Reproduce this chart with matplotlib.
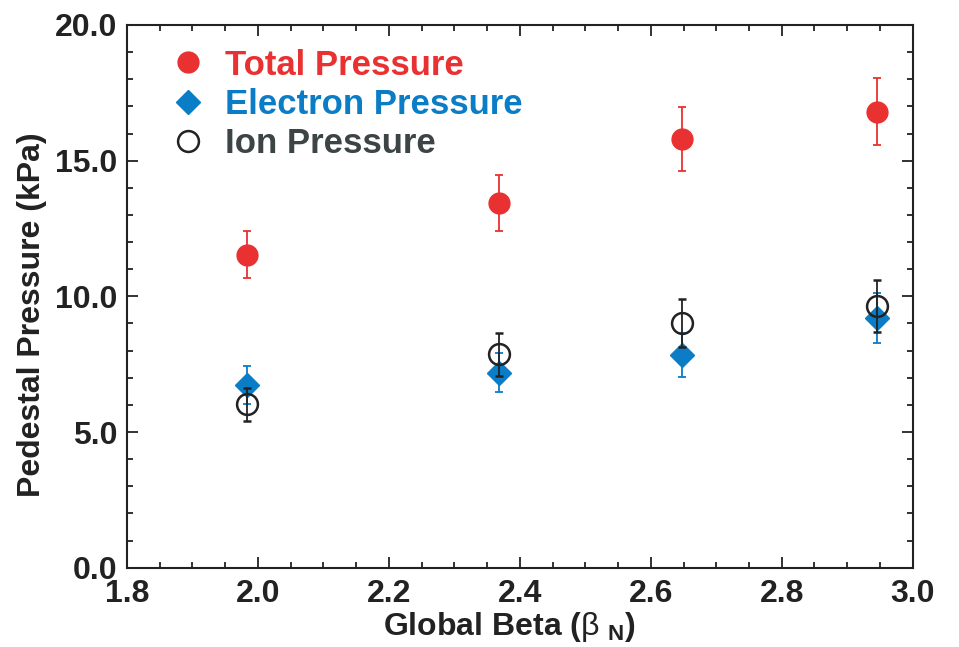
import matplotlib
matplotlib.use("Agg")
import matplotlib.pyplot as plt
from matplotlib.ticker import MultipleLocator, FormatStrFormatter

plt.rcParams['font.family'] = ['Liberation Sans', 'DejaVu Sans']
plt.rcParams['font.weight'] = 'bold'
plt.rcParams['mathtext.fontset'] = 'custom'
plt.rcParams['mathtext.rm'] = 'Liberation Sans:bold'
plt.rcParams['mathtext.it'] = 'Liberation Sans:normal'
plt.rcParams['mathtext.bf'] = 'Liberation Sans:bold'

# Data
beta_n = [1.984, 2.368, 2.647, 2.945]
total_p = [11.53, 13.44, 15.79, 16.81]
total_err = [0.87, 1.02, 1.18, 1.25]
electron_p = [6.73, 7.19, 7.84, 9.19]
electron_err = [0.70, 0.72, 0.80, 0.92]
ion_p = [6.02, 7.87, 9.01, 9.65]
ion_err = [0.60, 0.79, 0.89, 0.95]

RED = '#E83130'
BLUE = '#0A7DC6'
ION = '#222222'
ION_TEXT = '#3D4446'

fig = plt.figure(figsize=(9.59, 6.47), dpi=100)
ax = fig.add_axes([0.1324, 0.1226, 0.8193, 0.8388])

ax.errorbar(beta_n, electron_p, yerr=electron_err, fmt='D', color=BLUE,
            markersize=12, ecolor=BLUE, elinewidth=1.3, capsize=3, capthick=1.3,
            label='Electron Pressure', zorder=3)
ax.errorbar(beta_n, ion_p, yerr=ion_err, fmt='o', color=ION, mfc='none', mec=ION,
            mew=1.8, markersize=15, ecolor=ION, elinewidth=1.3, capsize=3, capthick=1.3,
            label='Ion Pressure', zorder=4)
ax.errorbar(beta_n, total_p, yerr=total_err, fmt='o', color=RED,
            markersize=15, ecolor=RED, elinewidth=1.3, capsize=3, capthick=1.3,
            label='Total Pressure', zorder=3)

ax.set_xlim(1.8, 3.0)
ax.set_ylim(0, 20)
ax.xaxis.set_major_locator(MultipleLocator(0.2))
ax.xaxis.set_minor_locator(MultipleLocator(0.05))
ax.yaxis.set_major_locator(MultipleLocator(5))
ax.yaxis.set_minor_locator(MultipleLocator(1))
ax.xaxis.set_major_formatter(FormatStrFormatter('%.1f'))
ax.yaxis.set_major_formatter(FormatStrFormatter('%.1f'))

ax.tick_params(which='both', direction='in', top=True, right=True, width=1.3, color='#222222')
ax.tick_params(which='major', length=8, labelsize=23, labelcolor='#222222')
ax.tick_params(axis='x', which='major', pad=8)
ax.tick_params(axis='y', which='major', pad=7)
ax.tick_params(which='minor', length=4)
for s in ax.spines.values():
    s.set_linewidth(1.5)
    s.set_color('#222222')

ax.set_xlabel(r'Global Beta ($\beta$ $_{\mathbf{N}}$)', fontsize=23, fontweight='bold',
              color='#222222')
ax.set_ylabel('Pedestal Pressure (kPa)', fontsize=23, fontweight='bold',
              color='#222222')
ax.xaxis.set_label_coords(0.4875, -0.078)
ax.yaxis.set_label_coords(-0.102, 0.467)

handles, labels = ax.get_legend_handles_labels()
order = [2, 0, 1]
leg = ax.legend([handles[i][0] for i in order], [labels[i] for i in order],
                loc='upper left', bbox_to_anchor=(0.038, 0.982), frameon=False,
                borderaxespad=0, handletextpad=0.57, labelspacing=0.175, handlelength=1.0,
                prop={'weight': 'bold', 'size': 25})
for t, c in zip(leg.get_texts(), [RED, BLUE, ION_TEXT]):
    t.set_color(c)

fig.savefig('out.png', dpi=100)
